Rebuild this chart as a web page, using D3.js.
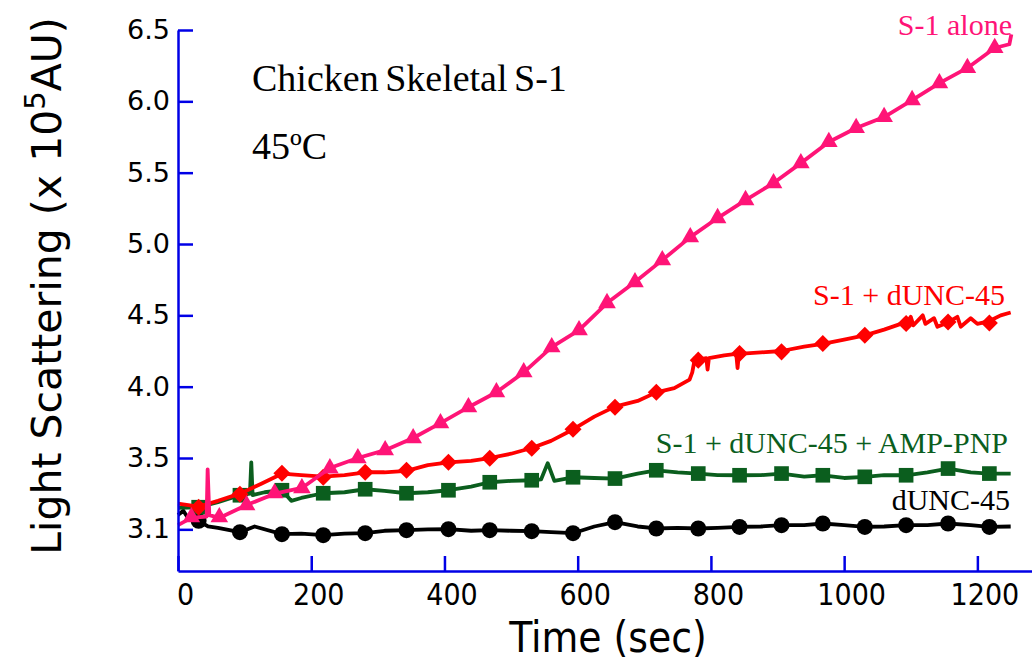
<html>
<head>
<script src="https://cdn.jsdelivr.net/npm/d3@7"></script>
<style>
  body { margin: 0; background: #fff; }
  .axis path, .axis line { stroke: #0000e6; stroke-width: 2.5px; }
  .axis text { fill: #000; }
  .trace { fill: none; stroke-width: 3.8px; stroke-linejoin: round; }
</style>
</head>
<body>
<script>
// tick values / labels
var xTickValues = [0, 200, 400, 600, 800, 1000, 1200];
var yTickValues = [3.0, 3.5, 4.0, 4.5, 5.0, 5.5, 6.0, 6.5];
var yTickLabels = ["3.1", "3.5", "4.0", "4.5", "5.0", "5.5", "6.0", "6.5"];

// S-1 alone (pink, triangles)
var aloneLineT = [0, 20, 43, 44.5, 47, 62, 80, 103, 145, 186, 228, 270, 311, 353, 394, 436, 478, 519, 561, 602, 644, 686, 727, 769, 810, 852, 894, 935, 977, 1018, 1060, 1102, 1143, 1185, 1226, 1248, 1251];
var aloneLineV = [3.03, 3.08, 3.09, 3.42, 3.10, 3.08, 3.12, 3.17, 3.25, 3.29, 3.43, 3.50, 3.555, 3.64, 3.744, 3.856, 3.961, 4.10, 4.277, 4.396, 4.586, 4.733, 4.887, 5.048, 5.182, 5.308, 5.427, 5.567, 5.715, 5.813, 5.89, 6.009, 6.128, 6.234, 6.374, 6.40, 6.47];
var aloneMarkT = [20, 62, 103, 145, 186, 228, 270, 311, 353, 394, 436, 478, 519, 561, 602, 644, 686, 727, 769, 810, 852, 894, 935, 977, 1018, 1060, 1102, 1143, 1185, 1226];
var aloneMarkV = [3.085, 3.085, 3.169, 3.253, 3.288, 3.428, 3.499, 3.555, 3.639, 3.744, 3.856, 3.961, 4.102, 4.277, 4.396, 4.586, 4.733, 4.887, 5.048, 5.182, 5.308, 5.427, 5.567, 5.715, 5.813, 5.890, 6.009, 6.128, 6.234, 6.374];

// shared marker times for the other three traces
var markT = [31, 93, 156, 218, 281, 343, 406, 468, 531, 593, 656, 718, 781, 843, 906, 968, 1031, 1093, 1156, 1218];

// S-1 + dUNC-45 (red, diamonds)
var duncLineT = [0, 31, 60, 93, 125, 156, 185, 218, 250, 281, 310, 343, 375, 406, 440, 468, 500, 531, 560, 593, 625, 656, 690, 718, 745, 768, 772, 776, 781, 793, 795, 797, 820, 838, 840, 842, 875, 906, 940, 968, 1000, 1031, 1060, 1085, 1093, 1100, 1104, 1118, 1122, 1135, 1140, 1156, 1170, 1175, 1190, 1200, 1218, 1235, 1250];
var duncLineV = [3.18, 3.16, 3.20, 3.25, 3.32, 3.39, 3.38, 3.37, 3.38, 3.40, 3.40, 3.41, 3.45, 3.47, 3.48, 3.50, 3.53, 3.57, 3.62, 3.70, 3.79, 3.86, 3.90, 3.96, 3.99, 4.05, 4.10, 4.20, 4.19, 4.20, 4.12, 4.20, 4.22, 4.23, 4.13, 4.23, 4.24, 4.25, 4.28, 4.30, 4.33, 4.36, 4.40, 4.44, 4.44, 4.49, 4.43, 4.50, 4.44, 4.48, 4.42, 4.45, 4.49, 4.42, 4.48, 4.44, 4.46, 4.50, 4.52];
var duncMarkV = [3.155, 3.246, 3.393, 3.365, 3.400, 3.414, 3.471, 3.499, 3.569, 3.702, 3.856, 3.961, 4.186, 4.233, 4.244, 4.303, 4.361, 4.443, 4.454, 4.447];

// S-1 + dUNC-45 + AMP-PNP (green, squares)
var ampLineT = [0, 31, 60, 93, 108, 110, 112, 130, 156, 170, 185, 218, 250, 281, 310, 343, 375, 406, 440, 468, 500, 531, 545, 555, 565, 593, 625, 656, 690, 718, 750, 781, 810, 843, 875, 906, 940, 968, 1000, 1031, 1060, 1093, 1125, 1156, 1190, 1218, 1250];
var ampLineV = [3.15, 3.155, 3.19, 3.239, 3.25, 3.47, 3.24, 3.26, 3.274, 3.20, 3.22, 3.253, 3.26, 3.281, 3.27, 3.253, 3.26, 3.274, 3.30, 3.33, 3.34, 3.344, 3.35, 3.464, 3.34, 3.365, 3.36, 3.356, 3.39, 3.414, 3.40, 3.391, 3.38, 3.379, 3.38, 3.391, 3.37, 3.379, 3.36, 3.368, 3.38, 3.379, 3.40, 3.426, 3.40, 3.391, 3.39];
var ampMarkV = [3.155, 3.239, 3.274, 3.253, 3.281, 3.253, 3.274, 3.330, 3.344, 3.365, 3.356, 3.414, 3.391, 3.379, 3.391, 3.379, 3.368, 3.379, 3.426, 3.391];

// dUNC-45 alone (black, circles)
var ctrlLineT = [0, 8, 15, 31, 45, 60, 93, 115, 156, 185, 218, 250, 281, 310, 343, 375, 406, 440, 468, 500, 531, 560, 593, 625, 656, 690, 718, 750, 781, 810, 843, 875, 906, 940, 968, 1000, 1031, 1060, 1093, 1125, 1156, 1190, 1218, 1250];
var ctrlLineV = [3.10, 3.13, 3.08, 3.06, 3.02, 3.01, 2.98, 3.02, 2.966, 2.97, 2.959, 2.97, 2.973, 2.99, 2.994, 3.00, 3.001, 2.99, 2.994, 2.99, 2.987, 2.98, 2.973, 3.02, 3.05, 3.02, 3.006, 3.01, 3.006, 3.01, 3.017, 3.02, 3.029, 3.03, 3.041, 3.03, 3.017, 3.02, 3.029, 3.03, 3.041, 3.03, 3.017, 3.02];
var ctrlMarkV = [3.06, 2.980, 2.966, 2.959, 2.973, 2.994, 3.001, 2.994, 2.987, 2.973, 3.050, 3.006, 3.006, 3.017, 3.029, 3.041, 3.017, 3.029, 3.041, 3.017];

var W = 1032, H = 664;
var svg = d3.select("body").append("svg").attr("width", W).attr("height", H);

var x = d3.scaleLinear().domain([0, 1282]).range([178, 1032]);
var y = d3.scaleLinear().domain([2.708, 6.5]).range([571, 30]);

function zip(ts, vs) { return ts.map(function(t, i) { return [t, vs[i]]; }); }

var line = d3.line().x(function(d) { return x(d[0]); }).y(function(d) { return y(d[1]); });

var series = [
  { line: zip(ctrlLineT, ctrlLineV), marks: zip(markT, ctrlMarkV), color: "#000000", sym: d3.symbolCircle, size: 200, rot: 0 },
  { line: zip(ampLineT, ampLineV), marks: zip(markT, ampMarkV), color: "#0b5e1e", sym: d3.symbolSquare, size: 215, rot: 0 },
  { line: zip(duncLineT, duncLineV), marks: zip(markT, duncMarkV), color: "#ff0000", sym: d3.symbolSquare, size: 145, rot: 45 },
  { line: zip(aloneLineT, aloneLineV), marks: zip(aloneMarkT, aloneMarkV), color: "#ff1477", sym: d3.symbolTriangle, size: 135, rot: 0 }
];

series.forEach(function(s) {
  svg.append("path").datum(s.line).attr("class", "trace").attr("stroke", s.color).attr("d", line);
  svg.selectAll(null).data(s.marks).enter().append("path")
    .attr("d", d3.symbol().type(s.sym).size(s.size))
    .attr("fill", s.color)
    .attr("transform", function(d) { return "translate(" + x(d[0]) + "," + y(d[1]) + ") rotate(" + s.rot + ")"; });
});

// axes
var gy = svg.append("g").attr("class", "axis").attr("transform", "translate(178,0)")
  .call(d3.axisLeft(y).tickValues(yTickValues).tickSizeInner(-15).tickSizeOuter(0).tickPadding(8)
    .tickFormat(function(d, i) { return yTickLabels[i]; }));
gy.selectAll("text").style("font-family", "'DejaVu Sans', Verdana, sans-serif").style("font-size", "27px");

var condensed = "'DejaVu Sans Condensed', 'Liberation Sans Narrow', 'DejaVu Sans', sans-serif";
var gx = svg.append("g").attr("class", "axis").attr("transform", "translate(0,571)")
  .call(d3.axisBottom(x).tickValues(xTickValues).tickSizeInner(-15).tickSizeOuter(0).tickPadding(13)
    .tickFormat(d3.format("d")));
gx.selectAll("text").attr("x", 7)
  .style("font-family", condensed).style("font-stretch", "condensed").style("font-size", "30px");

// axis titles
svg.append("text")
  .attr("x", 608).attr("y", 652).attr("text-anchor", "middle")
  .style("font-family", condensed).style("font-stretch", "condensed").style("font-size", "42px")
  .text("Time (sec)");

var yl = svg.append("text")
  .attr("transform", "translate(61,286) rotate(-90)").attr("text-anchor", "middle")
  .style("font-family", "'DejaVu Sans', Verdana, sans-serif").style("font-size", "41px");
yl.append("tspan").text("Light Scattering (x 10");
yl.append("tspan").attr("dy", -16).style("font-size", "29px").text("5");
yl.append("tspan").attr("dy", 16).text("AU)");

// annotations
var serif = "'Liberation Serif', 'Times New Roman', serif";
svg.append("text").attr("x", 252).attr("y", 91).style("font-family", serif).style("font-size", "38px")
  .style("word-spacing", "-3px").text("Chicken Skeletal S-1");
svg.append("text").attr("x", 252).attr("y", 159).style("font-family", serif).style("font-size", "38px")
  .text("45ºC");

var labels = [
  { text: "S-1 alone", x: 1012, y: 35, color: "#ff1477" },
  { text: "S-1 + dUNC-45", x: 1005, y: 305, color: "#ff0000" },
  { text: "S-1 + dUNC-45 + AMP-PNP", x: 1008, y: 453, color: "#0b5e1e" },
  { text: "dUNC-45", x: 1010, y: 510, color: "#000000" }
];
svg.selectAll(null).data(labels).enter().append("text")
  .attr("x", function(d) { return d.x; }).attr("y", function(d) { return d.y; })
  .attr("text-anchor", "end").attr("fill", function(d) { return d.color; })
  .style("font-family", serif).style("font-size", "30px")
  .text(function(d) { return d.text; });
</script>
</body>
</html>
